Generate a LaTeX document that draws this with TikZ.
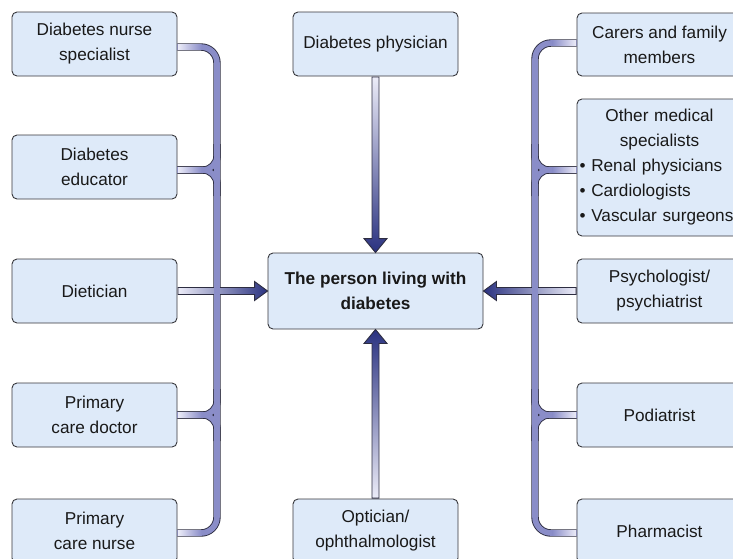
\documentclass[tikz,border=0pt]{standalone}
\usepackage{fontspec}
\setmainfont{Liberation Sans}
\usetikzlibrary{calc}
\definecolor{boxfill}{RGB}{222,234,249}
\definecolor{boxborder}{RGB}{55,55,60}
\definecolor{busfill}{RGB}{138,141,200}
\definecolor{busline}{RGB}{45,45,65}
\definecolor{arrowdark}{RGB}{42,50,128}
\definecolor{barlight}{RGB}{236,236,248}
\newcommand\drawbus[1]{%
  \draw[#1, rounded corners=16pt] (a1) -- (a1 -| lbx) -- (a5 -| lbx) -- (a5);
  \draw[#1, rounded corners=14pt] ($(a2 -| lbx)+(0,-26)$) -- (a2 -| lbx) -- (a2);
  \draw[#1, rounded corners=14pt] ($(a2 -| lbx)+(0,26)$) -- (a2 -| lbx) -- (a2);
  \draw[#1, rounded corners=14pt] ($(a4 -| lbx)+(0,-26)$) -- (a4 -| lbx) -- (a4);
  \draw[#1, rounded corners=14pt] ($(a4 -| lbx)+(0,26)$) -- (a4 -| lbx) -- (a4);
  \draw[#1, rounded corners=16pt] (b1) -- (b1 -| rbx) -- (b5 -| rbx) -- (b5);
  \draw[#1, rounded corners=14pt] ($(b2 -| rbx)+(0,-26)$) -- (b2 -| rbx) -- (b2);
  \draw[#1, rounded corners=14pt] ($(b2 -| rbx)+(0,26)$) -- (b2 -| rbx) -- (b2);
  \draw[#1, rounded corners=14pt] ($(b4 -| rbx)+(0,-26)$) -- (b4 -| rbx) -- (b4);
  \draw[#1, rounded corners=14pt] ($(b4 -| rbx)+(0,26)$) -- (b4 -| rbx) -- (b4);
}
\newcommand\lgrad[1]{\shade[left color=barlight, right color=busfill] ($(#1)+(0.5,-2.8)$) rectangle ($(#1)+(24,2.8)$);}
\newcommand\rgrad[1]{\shade[left color=busfill, right color=barlight] ($(#1)+(-24,-2.8)$) rectangle ($(#1)+(-0.5,2.8)$);}
\begin{document}
\begin{tikzpicture}[x=1pt,y=-1pt,
  box/.style={draw=boxborder, fill=boxfill, rounded corners=5pt, line width=0.9pt,
    minimum width=165pt, minimum height=64pt, align=center, inner sep=0pt,
    text=black!90, font=\fontsize{17.2}{25}\selectfont},
  busout/.style={draw=busline, line width=7.4pt},
  busin/.style={draw=busfill, line width=5.6pt},
  barrow/.style={draw=busline, line width=0.9pt}]
\useasboundingbox (0,0) rectangle (733,558);
\clip (0,0) rectangle (733,558);
% boxes
\node[box] (n1) at (94.5,44) {Diabetes nurse\\specialist};
\node[box] (n2) at (94.5,167) {Diabetes\\educator};
\node[box] (n3) at (94.5,291) {Dietician};
\node[box] (n4) at (94.5,415) {Primary\\care doctor};
\node[box] (n5) at (94.5,531) {Primary\\care nurse};
\node[box] (phys) at (375.5,44) {Diabetes physician};
\node[box, minimum width=215pt, minimum height=76pt, font=\fontsize{17.2}{25}\selectfont\bfseries] (c) at (375.5,291) {The person living with\\diabetes};
\node[box] (opt) at (375.5,531) {Optician/\\ophthalmologist};
\node[box, minimum height=63pt] (r1) at (659.5,44.5) {Carers and family\\members};
\node[box, minimum height=137pt, text width=160pt, align=left, inner xsep=2.5pt] (r2) at (659.5,167.5)
  {{\centering Other medical\\specialists\par}\textbullet\ Renal physicians\\\textbullet\ Cardiologists\\\textbullet\ Vascular surgeons};
\node[box] (r3) at (659.5,291) {Psychologist/\\psychiatrist};
\node[box] (r4) at (659.5,415) {Podiatrist};
\node[box] (r5) at (659.5,531) {Pharmacist};
% bus coordinates
\coordinate (lbx) at (217,0);
\coordinate (rbx) at (535,0);
\coordinate (a1) at ([yshift=-3pt]n1.east);
\coordinate (a2) at ([yshift=-3pt]n2.east);
\coordinate (a4) at (n4.east);
\coordinate (a5) at ([yshift=-2pt]n5.east);
\coordinate (b1) at ([yshift=1.5pt]r1.west);
\coordinate (b2) at ([yshift=-2.5pt]r2.west);
\coordinate (b4) at (r4.west);
\coordinate (b5) at ([yshift=-2pt]r5.west);
% bus outlines
\drawbus{busout}
% block arrows
\path[barrow, left color=barlight, right color=arrowdark]
  let \p1=(n3.east), \p2=(c.west) in
  (\x1+0.5pt,\y2+3.5pt) -- (\x2-13pt,\y2+3.5pt) -- (\x2-13pt,\y2+9.5pt) -- (\x2,\y2)
  -- (\x2-13pt,\y2-9.5pt) -- (\x2-13pt,\y2-3.5pt) -- (\x1+0.5pt,\y2-3.5pt) -- cycle;
\path[barrow, left color=arrowdark, right color=barlight]
  let \p1=(r3.west), \p2=(c.east) in
  (\x1-0.5pt,\y2+3.5pt) -- (\x2+13pt,\y2+3.5pt) -- (\x2+13pt,\y2+9.5pt) -- (\x2,\y2)
  -- (\x2+13pt,\y2-9.5pt) -- (\x2+13pt,\y2-3.5pt) -- (\x1-0.5pt,\y2-3.5pt) -- cycle;
\path[barrow, top color=barlight, bottom color=arrowdark]
  let \p1=(phys.south), \p2=(c.north) in
  (\x2-3.5pt,\y1-0.5pt) -- (\x2-3.5pt,\y2+14pt) -- (\x2-11.5pt,\y2+14pt) -- (\x2,\y2)
  -- (\x2+11.5pt,\y2+14pt) -- (\x2+3.5pt,\y2+14pt) -- (\x2+3.5pt,\y1-0.5pt) -- cycle;
\path[barrow, top color=arrowdark, bottom color=barlight]
  let \p1=(opt.north), \p2=(c.south) in
  (\x2-3.5pt,\y1+0.5pt) -- (\x2-3.5pt,\y2-14pt) -- (\x2-11.5pt,\y2-14pt) -- (\x2,\y2)
  -- (\x2+11.5pt,\y2-14pt) -- (\x2+3.5pt,\y2-14pt) -- (\x2+3.5pt,\y1+0.5pt) -- cycle;
% bus fills
\drawbus{busin}
% gradients on horizontal connectors
\lgrad{a1}\lgrad{a2}\lgrad{a4}\lgrad{a5}
\rgrad{b1}\rgrad{b2}\rgrad{b4}\rgrad{b5}
\end{tikzpicture}
\end{document}
